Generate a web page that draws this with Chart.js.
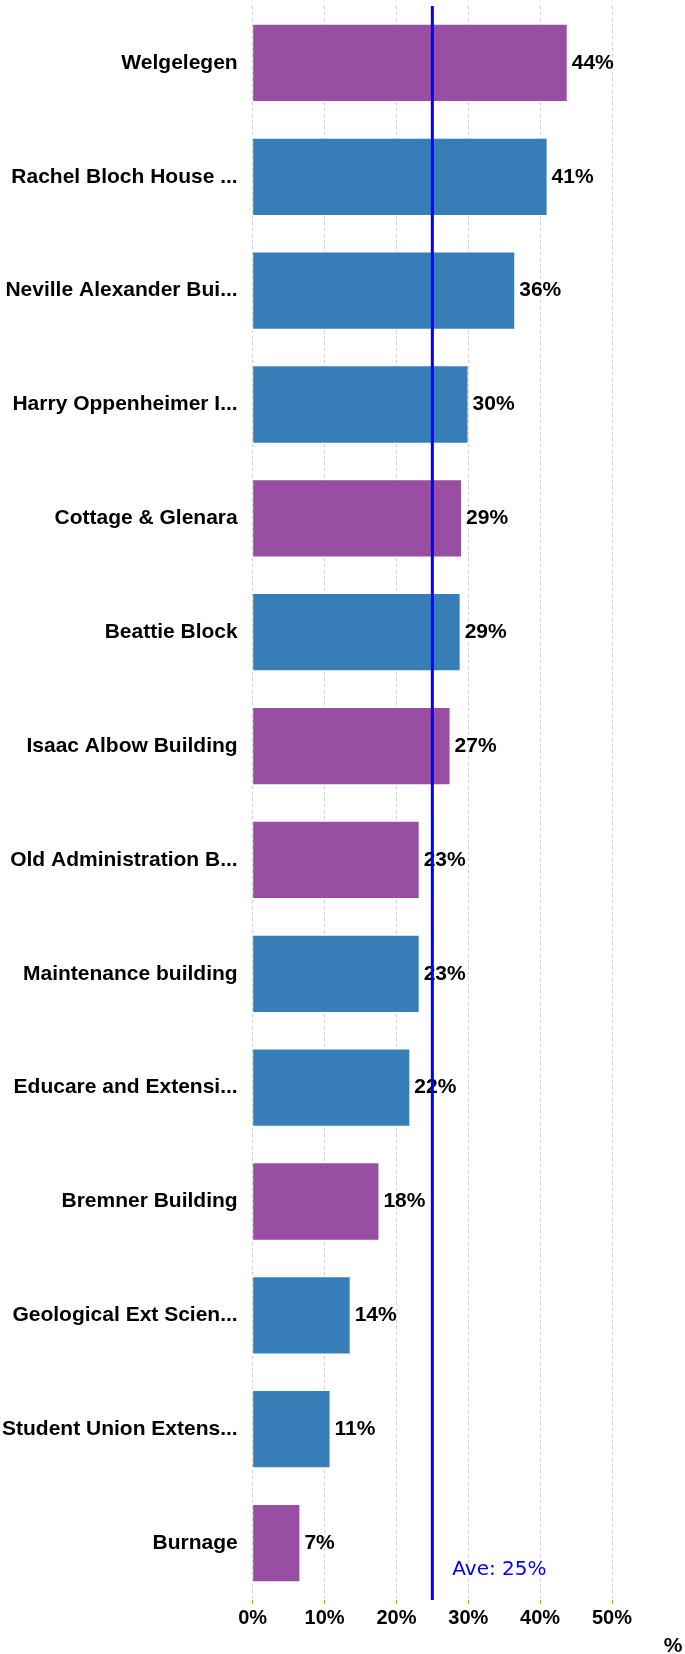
<!DOCTYPE html>
<html>
<head>
<meta charset="utf-8">
<script src="https://cdn.jsdelivr.net/npm/chart.js@4.4.1/dist/chart.umd.min.js"></script>
<style>
html,body{margin:0;padding:0;background:#fff;}
#wrap{width:685px;height:1654px;position:relative;}
</style>
</head>
<body>
<div id="wrap"><canvas id="buildingChart"></canvas></div>
<script>
// chart data
const buildings = [
"Welgelegen",
"Rachel Bloch House ...",
"Neville Alexander Bui...",
"Harry Oppenheimer I...",
"Cottage & Glenara",
"Beattie Block",
"Isaac Albow Building",
"Old Administration B...",
"Maintenance building",
"Educare and Extensi...",
"Bremner Building",
"Geological Ext Scien...",
"Student Union Extens...",
"Burnage"
];
const percentValues = [43.7, 40.9, 36.4, 29.9, 29.0, 28.8, 27.4, 23.1, 23.1, 21.8, 17.5, 13.5, 10.7, 6.5];
const barGroups = ["b","a","a","a","b","a","b","b","a","a","b","a","a","b"];
const xTicks = [0, 10, 20, 30, 40, 50];
const averageValue = 25;
const averageLabel = "Ave: 25%";
const axisTitle = "%";

const groupColors = {a:"#377EB8", b:"#984EA3"};
const fontFamily = "'Liberation Sans', Arial, sans-serif";
const boldFont = "bold 21px " + fontFamily;

const overlayPlugin = {
id:"overlay",
afterDatasetsDraw(chart){
const ctx = chart.ctx;
const xs = chart.scales.x;
const area = chart.chartArea;
const meta = chart.getDatasetMeta(0);
ctx.save();
// value labels
ctx.font = boldFont;
ctx.fillStyle = "#000";
ctx.textAlign = "left";
ctx.textBaseline = "middle";
meta.data.forEach((bar,i)=>{
ctx.fillText(Math.round(percentValues[i]) + "%", bar.x + 5, bar.y);
});
// average line
const ax = xs.getPixelForValue(averageValue);
ctx.strokeStyle = "#0000FF";
ctx.lineWidth = 3;
ctx.beginPath();
ctx.moveTo(ax, area.top);
ctx.lineTo(ax, area.bottom);
ctx.stroke();
ctx.font = "20px 'DejaVu Sans', Verdana, sans-serif";
ctx.fillStyle = "#0000FF";
ctx.fillText(averageLabel, ax + 20, area.bottom - 30);
// axis title
ctx.font = boldFont;
ctx.fillStyle = "#000";
ctx.textAlign = "center";
ctx.fillText(axisTitle, 673, 1646);
ctx.restore();
}
};

new Chart(document.getElementById("buildingChart"),{
type:"bar",
data:{
labels:buildings,
datasets:[{
data:percentValues,
backgroundColor:barGroups.map(g=>groupColors[g]),
borderWidth:0,
barPercentage:0.67,
categoryPercentage:1
}]
},
options:{
indexAxis:"y",
responsive:true,
maintainAspectRatio:false,
animation:false,
layout:{padding:{top:6,right:73,bottom:22,left:2}},
plugins:{legend:{display:false},tooltip:{enabled:false}},
scales:{
x:{
min:0,
max:50,
afterBuildTicks(axis){axis.ticks = xTicks.map(v=>({value:v}));},
border:{display:false,dash:[3,3]},
grid:{color:"#cccccc",tickColor:"#ff9900",tickLength:4,drawTicks:true},
ticks:{color:"#000",font:{family:fontFamily,size:20,weight:"bold"},padding:2,callback:v=>v+"%"},
afterFit(axis){axis.paddingLeft = 0; axis.paddingRight = 0;}
},
y:{
border:{display:false},
grid:{display:true,drawOnChartArea:false,drawTicks:true,tickLength:15,tickColor:"rgba(0,0,0,0)"},
ticks:{color:"#000",font:{family:fontFamily,size:21,weight:"bold"},padding:0},
afterFit(axis){axis.paddingTop = 0; axis.paddingBottom = 0;}
}
}
},
plugins:[overlayPlugin]
});
</script>
</body>
</html>
